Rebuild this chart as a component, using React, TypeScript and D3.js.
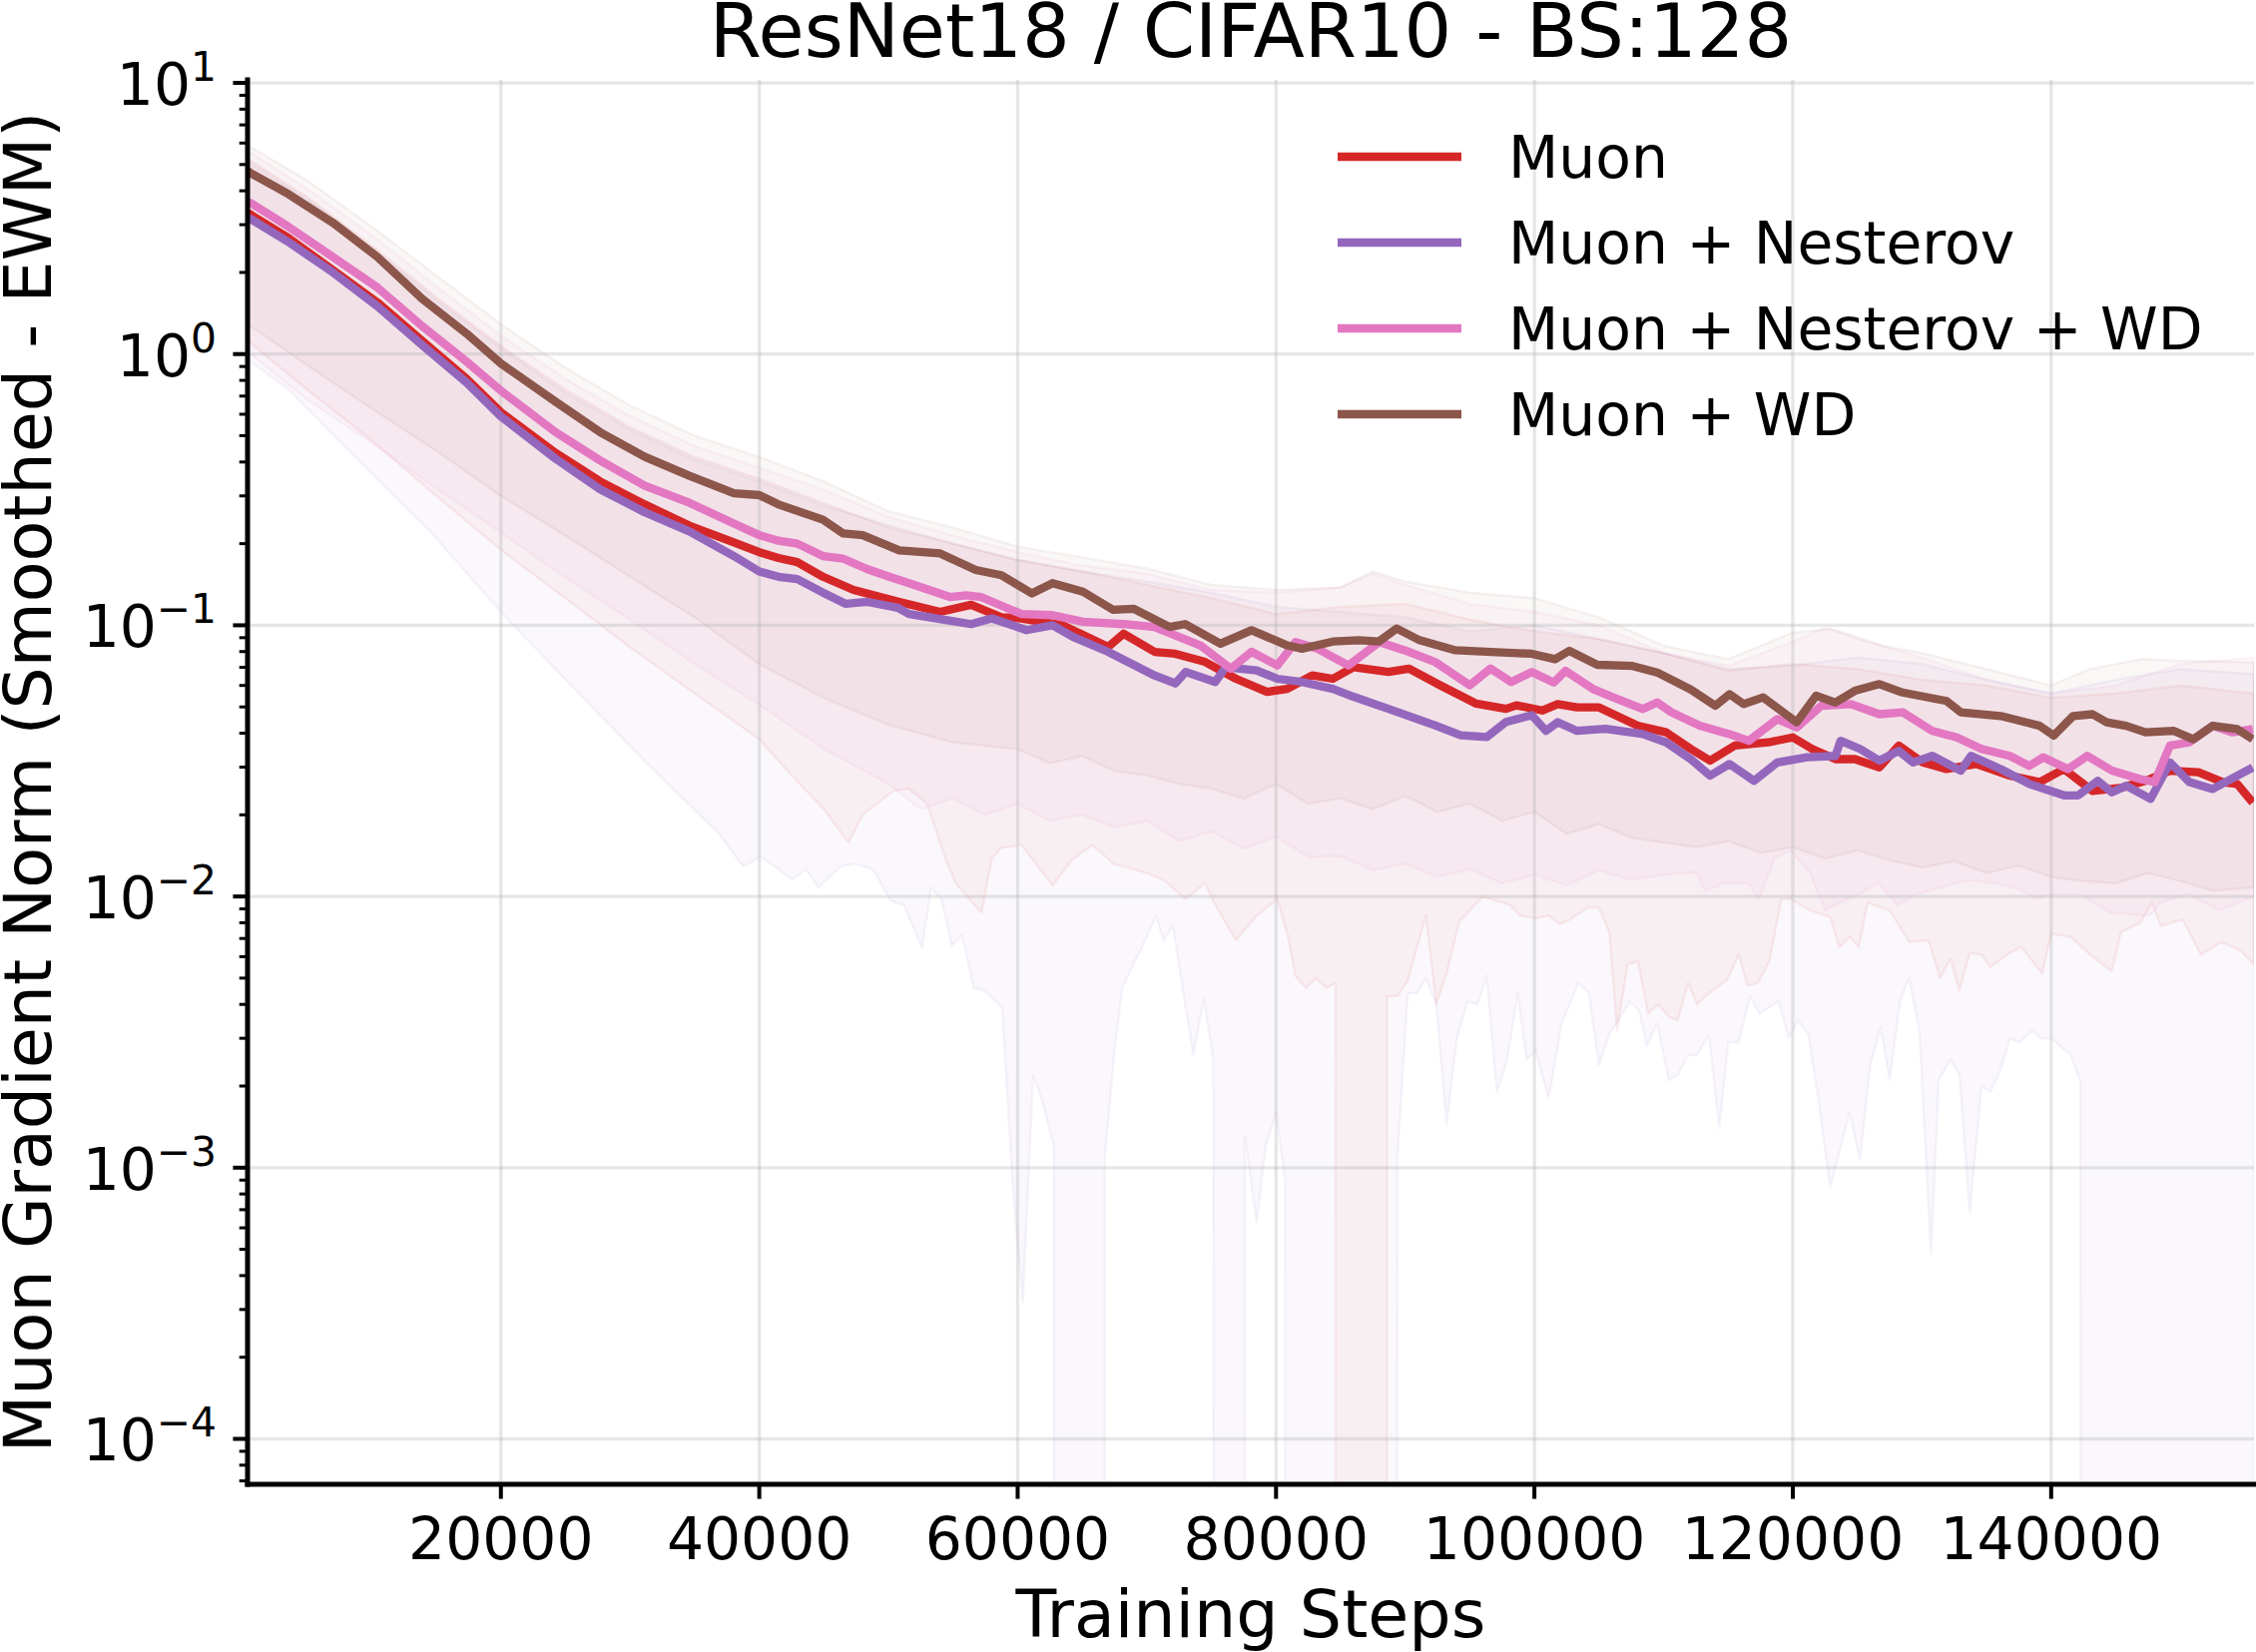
import React, { useEffect } from 'react';
import * as d3 from 'd3';

const W = 2260;
const H = 1655;

const TITLE = 'ResNet18 / CIFAR10 - BS:128';
const X_LABEL = 'Training Steps';
const Y_LABEL = 'Muon Gradient Norm (Smoothed - EWM)';
const X_TICKS = [20000, 40000, 60000, 80000, 100000, 120000, 140000];
const Y_DECADES = [-4, -3, -2, -1, 0, 1];
const X_DOMAIN: [number, number] = [391, 155700];
const Y_DOMAIN: [number, number] = [6.8e-5, 10.26];

const SERIES_NAMES = ['Muon', 'Muon + Nesterov', 'Muon + Nesterov + WD', 'Muon + WD'];
const COLORS = ['#d62728', '#9467bd', '#e377c2', '#8c564b'];

type P = [number, number];

// ---- smoothed mean lines [step, value] ----
const MUON: P[] = [[391,3.32],[620,3.27],[3551,2.68],[7000,2.04],[10448,1.55],[13896,1.12],[17344,0.811],[20000,0.61],[24241,0.432],[27690,0.339],[31138,0.279],[34586,0.233],[38034,0.202],[40000,0.186],[41483,0.177],[42940,0.171],[44931,0.151],[47300,0.135],[50840,0.122],[54000,0.112],[56400,0.119],[58740,0.107],[60300,0.106],[63500,0.1],[67000,0.0832],[68200,0.0931],[70600,0.0798],[72200,0.0785],[74500,0.0733],[76900,0.0635],[79300,0.0568],[80870,0.0583],[82800,0.0653],[84400,0.0635],[86000,0.0701],[88700,0.0673],[90300,0.0692],[92700,0.0601],[95500,0.0514],[97800,0.0492],[98600,0.0507],[100600,0.0485],[101800,0.0512],[103300,0.0498],[105000,0.0498],[108000,0.0426],[110200,0.0403],[112100,0.035],[113600,0.0317],[115500,0.036],[118100,0.037],[120000,0.0386],[121500,0.035],[123300,0.0321],[124800,0.0321],[126700,0.0299],[128200,0.036],[130000,0.0313],[131900,0.0295],[134200,0.0308],[136800,0.0279],[139100,0.0264],[141000,0.0295],[143200,0.0245],[145500,0.0252],[147300,0.0267],[149200,0.0291],[151400,0.0287],[153300,0.0264],[154400,0.026],[155600,0.0222]];

const NESTEROV: P[] = [[391,3.18],[620,3.15],[3551,2.59],[7000,2.0],[10448,1.5],[13896,1.08],[17344,0.785],[20000,0.589],[24241,0.411],[27690,0.317],[31138,0.261],[34586,0.222],[38034,0.18],[40000,0.158],[41483,0.151],[42940,0.148],[44931,0.132],[46700,0.12],[48379,0.122],[50724,0.116],[51600,0.11],[54800,0.104],[56400,0.101],[58000,0.106],[60700,0.096],[62700,0.1],[64300,0.0906],[67000,0.0798],[70600,0.0653],[72200,0.061],[73000,0.0673],[75300,0.0618],[76100,0.0701],[78500,0.0682],[80100,0.0635],[82000,0.0618],[84400,0.0583],[86000,0.0545],[88700,0.0492],[92300,0.0428],[94300,0.0393],[96300,0.0387],[97800,0.044],[99800,0.0466],[100900,0.0408],[101800,0.0439],[103300,0.0408],[105500,0.0415],[108400,0.0397],[110200,0.037],[112100,0.0321],[113600,0.0279],[115100,0.0308],[117000,0.0267],[118800,0.0312],[121100,0.0326],[123300,0.033],[123700,0.0375],[125200,0.035],[126700,0.0317],[128200,0.0344],[129300,0.0312],[130800,0.033],[133000,0.0291],[133800,0.033],[136100,0.0295],[138300,0.026],[141000,0.0236],[142100,0.0236],[143600,0.0267],[144700,0.0242],[145800,0.0256],[147700,0.0229],[149200,0.0312],[150700,0.0264],[152500,0.0249],[154400,0.0279],[155600,0.0299]];

const NESTEROV_WD: P[] = [[391,3.63],[620,3.61],[3551,2.95],[7000,2.28],[10448,1.76],[13896,1.27],[17344,0.938],[20000,0.733],[24241,0.515],[27690,0.405],[31138,0.327],[34586,0.283],[38034,0.237],[40000,0.215],[41483,0.205],[42940,0.2],[44931,0.18],[46500,0.176],[48379,0.161],[50050,0.151],[51600,0.143],[54800,0.127],[56000,0.129],[57200,0.127],[60300,0.11],[62700,0.109],[65050,0.103],[68200,0.101],[70580,0.0986],[74140,0.0843],[76500,0.0692],[78100,0.0798],[80100,0.0711],[81500,0.0867],[83200,0.082],[85600,0.0711],[88000,0.0867],[90300,0.0798],[92300,0.0733],[95000,0.0601],[96600,0.0692],[98200,0.0618],[99800,0.0673],[101500,0.0615],[102400,0.0679],[104600,0.058],[106100,0.0542],[108400,0.0491],[109500,0.0519],[110600,0.0478],[112800,0.0426],[115100,0.0397],[116600,0.0375],[118800,0.0451],[120300,0.042],[122200,0.0505],[124500,0.0512],[126700,0.047],[128500,0.0478],[130800,0.0408],[132700,0.0386],[134600,0.035],[136800,0.033],[138300,0.0303],[139400,0.0326],[141300,0.0295],[142800,0.033],[144700,0.0291],[146900,0.0271],[148000,0.0264],[149200,0.036],[150700,0.037],[152500,0.0426],[154000,0.0403],[155600,0.0414]];

const WD: P[] = [[391,4.75],[620,4.65],[3551,3.89],[7000,3.05],[10448,2.28],[13896,1.6],[17344,1.19],[20000,0.923],[24241,0.667],[27690,0.515],[31138,0.418],[34586,0.356],[38034,0.307],[40000,0.302],[41483,0.279],[44931,0.245],[46500,0.218],[48000,0.215],[50840,0.189],[54000,0.184],[56760,0.16],[58740,0.153],[61100,0.131],[62700,0.143],[65050,0.133],[67400,0.114],[69000,0.115],[71770,0.0986],[72950,0.101],[75700,0.0855],[78100,0.0959],[80870,0.0843],[82000,0.082],[84400,0.0871],[86400,0.0881],[87960,0.0871],[89340,0.0973],[91100,0.0881],[93880,0.0809],[96650,0.0798],[99800,0.0785],[101600,0.075],[102700,0.0805],[104860,0.0715],[107600,0.0708],[109500,0.067],[112100,0.058],[114000,0.0505],[115100,0.0557],[116200,0.0512],[117700,0.0542],[120300,0.0439],[121800,0.055],[123300,0.0519],[124800,0.0573],[126700,0.0607],[128500,0.0565],[131900,0.0526],[133000,0.0478],[136100,0.0463],[139100,0.0426],[140200,0.0392],[141700,0.0463],[143200,0.047],[144300,0.0439],[145800,0.0426],[147300,0.0403],[149500,0.0408],[151000,0.038],[152500,0.0426],[154400,0.0414],[155600,0.038]];

// ---- band upper edges ----
const MUON_HI: P[] = [[391,5.25],[5000,3.8],[10000,2.51],[15000,1.62],[20000,1.07],[25000,0.74],[30000,0.537],[35000,0.417],[40000,0.347],[45000,0.282],[50000,0.229],[55000,0.2],[60000,0.174],[65000,0.158],[70000,0.141],[75000,0.126],[80000,0.11],[85000,0.117],[90000,0.12],[95000,0.105],[100000,0.095],[105000,0.089],[110000,0.079],[115000,0.068],[120000,0.072],[125000,0.069],[130000,0.063],[135000,0.06],[140000,0.054],[145000,0.056],[150000,0.06],[155700,0.056]];
const NESTEROV_HI: P[] = [[391,5.13],[5000,3.72],[10000,2.45],[15000,1.58],[20000,1.05],[25000,0.72],[30000,0.525],[35000,0.407],[40000,0.339],[45000,0.275],[50000,0.234],[55000,0.2],[60000,0.174],[65000,0.158],[70000,0.145],[75000,0.132],[80000,0.117],[85000,0.112],[90000,0.107],[95000,0.095],[100000,0.1],[105000,0.089],[110000,0.079],[115000,0.069],[120000,0.071],[125000,0.076],[130000,0.072],[135000,0.063],[140000,0.056],[145000,0.063],[150000,0.069],[155700,0.066]];
const NESTEROV_WD_HI: P[] = [[391,5.62],[5000,4.07],[10000,2.75],[15000,1.78],[20000,1.17],[25000,0.81],[30000,0.59],[35000,0.457],[40000,0.38],[45000,0.316],[50000,0.251],[55000,0.214],[60000,0.186],[65000,0.166],[70000,0.155],[75000,0.135],[80000,0.132],[85000,0.138],[87500,0.155],[90000,0.141],[95000,0.12],[100000,0.112],[105000,0.1],[110000,0.079],[115000,0.071],[120000,0.087],[122500,0.098],[125000,0.089],[130000,0.076],[135000,0.063],[140000,0.056],[145000,0.06],[150000,0.072],[155700,0.076]];
const WD_HI: P[] = [[391,5.89],[5000,4.37],[10000,2.95],[15000,1.95],[20000,1.29],[25000,0.89],[30000,0.645],[35000,0.5],[40000,0.417],[45000,0.339],[50000,0.263],[55000,0.229],[60000,0.195],[65000,0.178],[70000,0.162],[75000,0.141],[80000,0.135],[85000,0.138],[87500,0.158],[90000,0.145],[95000,0.132],[100000,0.126],[105000,0.107],[110000,0.084],[115000,0.075],[120000,0.094],[123000,0.097],[127000,0.084],[130000,0.079],[135000,0.069],[140000,0.06],[143000,0.069],[147000,0.075],[150000,0.074],[155700,0.073]];

// ---- band lower edges (0 = non-positive, clipped to bottom) ----
const MUON_LO: P[] = [[391,1.12],[5000,0.74],[10000,0.48],[15000,0.3],[20000,0.19],[25000,0.126],[30000,0.083],[35000,0.056],[40000,0.038],[42500,0.028],[45000,0.021],[46900,0.0158],[48000,0.02],[50400,0.0245],[51600,0.025],[53000,0.0219],[54400,0.0138],[55200,0.0112],[57200,0.0087],[58000,0.0138],[58700,0.0151],[60300,0.0155],[61100,0.0138],[62700,0.011],[64300,0.0138],[65800,0.0155],[67400,0.0132],[69800,0.0123],[71300,0.0115],[73000,0.0098],[74500,0.0112],[75300,0.0093],[76900,0.0069],[78500,0.0085],[80100,0.0098],[80900,0.0072],[81500,0.0051],[82300,0.0046],[83100,0.005],[83900,0.0046],[84600,0.0048],[84700,0],[88500,0],[88600,0.0043],[89400,0.0043],[90200,0.0049],[91600,0.0085],[92400,0.004],[93200,0.0052],[94200,0.0081],[96000,0.01],[98100,0.0093],[98900,0.0085],[100100,0.0083],[101100,0.0085],[102000,0.0079],[102900,0.0083],[104100,0.0091],[105000,0.0091],[105800,0.0074],[106400,0.0032],[107200,0.0056],[108000,0.0058],[108800,0.0037],[109600,0.004],[110400,0.0036],[111100,0.0035],[111900,0.0048],[112600,0.004],[113500,0.0044],[114900,0.0049],[115800,0.0061],[116500,0.0047],[117300,0.0048],[118200,0.0058],[119100,0.0098],[119800,0.0098],[121300,0.0089],[122900,0.0084],[123600,0.0065],[124400,0.0071],[125100,0.0065],[125800,0.0095],[126800,0.0091],[127500,0.0089],[129000,0.0068],[130500,0.0069],[131400,0.005],[132200,0.0059],[132900,0.0045],[133700,0.0062],[134600,0.0061],[135300,0.0055],[136800,0.0062],[137700,0.0065],[139300,0.0052],[140000,0.0073],[141500,0.0071],[143200,0.006],[144700,0.0053],[145400,0.0074],[146900,0.008],[147800,0.0095],[148500,0.0078],[149300,0.008],[150200,0.0082],[151600,0.0061],[153200,0.0068],[154700,0.0063],[155700,0.0056]];

const NESTEROV_LO: P[] = [[391,0.955],[3500,0.746],[9000,0.405],[14600,0.22],[20000,0.112],[25800,0.0575],[31300,0.031],[36900,0.017],[38750,0.0129],[40100,0.014],[41500,0.0126],[42560,0.0115],[43600,0.0126],[44600,0.0108],[46300,0.0129],[47400,0.0132],[48800,0.0126],[50170,0.00964],[51200,0.0093],[52600,0.00646],[53300,0.0108],[54100,0.0098],[54900,0.0066],[55700,0.0072],[56600,0.0046],[57400,0.0045],[58800,0.0039],[59600,0.00089],[60400,0.00032],[61200,0.0022],[62000,0.0017],[62800,0.0012],[62850,0],[66700,0],[66750,0.0011],[67500,0.0027],[68100,0.0046],[69100,0.0058],[69700,0.0066],[70700,0.0085],[71300,0.0069],[72000,0.0078],[72900,0.0042],[73600,0.0026],[74400,0.0042],[75150,0.0025],[75200,0],[77550,0],[77600,0.0013],[78500,0.00063],[79200,0.0012],[80000,0.0016],[80700,0.0009],[80750,0],[89350,0],[89400,0.0011],[90200,0.0044],[90900,0.0044],[91600,0.005],[92400,0.004],[93200,0.00145],[94000,0.003],[94800,0.0041],[95600,0.004],[96300,0.0051],[97100,0.0019],[97900,0.0025],[98700,0.0044],[99400,0.0025],[100100,0.0027],[101100,0.0018],[102100,0.0034],[103400,0.0048],[104200,0.0044],[105000,0.0024],[105800,0.0031],[107400,0.0041],[108100,0.0038],[108700,0.0028],[109500,0.0034],[110400,0.0021],[111100,0.0022],[111900,0.0026],[112600,0.0026],[113500,0.0031],[114300,0.0014],[115000,0.0029],[115800,0.0029],[116700,0.0043],[117400,0.0037],[118900,0.0041],[119700,0.003],[120400,0.0035],[121200,0.0031],[121900,0.0019],[122900,0.00085],[124400,0.0016],[125200,0.00107],[126000,0.0024],[126800,0.0033],[127500,0.0021],[128300,0.0041],[129000,0.005],[129800,0.0032],[130700,0.00048],[131300,0.0021],[132200,0.0025],[132900,0.0022],[133700,0.00068],[134600,0.002],[135300,0.0019],[136100,0.0023],[136800,0.003],[137600,0.0029],[138500,0.0032],[139200,0.003],[140000,0.003],[141500,0.0026],[142250,0.0021],[142300,0],[155700,0]];

const NESTEROV_WD_LO: P[] = [[391,1.02],[5000,0.68],[10000,0.47],[15000,0.32],[20000,0.22],[25000,0.15],[30000,0.105],[35000,0.072],[40000,0.051],[45000,0.035],[50000,0.026],[52500,0.021],[55000,0.023],[57500,0.02],[60000,0.022],[62500,0.019],[65000,0.02],[67500,0.018],[70000,0.019],[72500,0.016],[75000,0.0174],[77500,0.015],[80000,0.0166],[82500,0.014],[85000,0.0141],[87500,0.0125],[90000,0.0132],[92500,0.0118],[95000,0.0126],[97500,0.0112],[100000,0.012],[102500,0.011],[105000,0.0125],[107500,0.0115],[110000,0.012],[112500,0.0123],[113200,0.0105],[114700,0.0112],[116500,0.0112],[117400,0.0098],[118600,0.0139],[119800,0.0148],[121300,0.0123],[122500,0.0089],[123700,0.0095],[125100,0.0102],[126600,0.0112],[128100,0.0093],[129600,0.0102],[131100,0.0107],[133500,0.0115],[135600,0.0112],[137400,0.0107],[138900,0.0098],[139800,0.0102],[142200,0.0102],[144600,0.0087],[147600,0.0085],[148500,0.0095],[150600,0.0102],[153000,0.0089],[155700,0.01]];

const WD_LO: P[] = [[391,1.29],[5000,0.91],[10000,0.63],[15000,0.44],[20000,0.3],[25000,0.214],[30000,0.151],[35000,0.107],[40000,0.072],[45000,0.054],[50000,0.043],[55000,0.037],[60000,0.035],[62500,0.031],[65000,0.033],[67500,0.029],[70000,0.028],[72500,0.026],[75000,0.025],[77500,0.023],[80000,0.026],[82500,0.022],[85000,0.023],[87500,0.021],[90000,0.0235],[92500,0.0205],[95000,0.022],[97500,0.019],[100000,0.0205],[102500,0.017],[105000,0.0185],[107500,0.0165],[110000,0.0158],[112500,0.0152],[115000,0.016],[117500,0.0145],[120000,0.0152],[122500,0.0138],[125000,0.0148],[127500,0.0136],[130000,0.0128],[132500,0.0135],[135000,0.0122],[137500,0.013],[140000,0.0118],[142500,0.0114],[145000,0.0112],[147500,0.0122],[150000,0.0114],[152500,0.0105],[155700,0.0108]];

const MEANS = [MUON, NESTEROV, NESTEROV_WD, WD];
const HIS = [MUON_HI, NESTEROV_HI, NESTEROV_WD_HI, WD_HI];
const LOS = [MUON_LO, NESTEROV_LO, NESTEROV_WD_LO, WD_LO];

const FONT = 'DejaVu Sans, Liberation Sans, sans-serif';

export default function App() {
  useEffect(() => {
    document.body.style.margin = '0';
  }, []);

  const left = 248, right = 2258, top = 80, bottom = 1487;
  const x = d3.scaleLinear().domain(X_DOMAIN).range([left, right]);
  const y = d3.scaleLog().domain(Y_DOMAIN).range([bottom, top]);
  const yv = (v: number) => (v > 0 ? y(v) : bottom + 3000);
  const line = d3.line<P>().x((d) => x(d[0])).y((d) => yv(d[1]));

  const minor: number[] = [];
  for (let k = -5; k <= 1; k++) {
    for (let m = 2; m <= 9; m++) {
      const v = m * Math.pow(10, k);
      if (v >= Y_DOMAIN[0] && v <= Y_DOMAIN[1]) minor.push(v);
    }
  }

  const tickFs = 58.3;
  const supFs = tickFs * 0.7;

  return (
    <svg width={W} height={H} viewBox={`0 0 ${W} ${H}`}
      style={{ display: 'block', position: 'absolute', left: 0, top: 0, background: '#fff' }} fontFamily={FONT}>
      <defs>
        <clipPath id="plot">
          <rect x={left} y={top} width={right - left} height={bottom - top} />
        </clipPath>
      </defs>
      <rect x={0} y={0} width={W} height={H} fill="#fff" />
      <g clipPath="url(#plot)">
        {LOS.map((lo, i) => {
          const pts: P[] = [...HIS[i], ...lo.slice().reverse()];
          return (
            <path key={'band' + i} d={(line(pts) || '') + 'Z'} fill={COLORS[i]} fillOpacity={0.045}
              stroke={COLORS[i]} strokeOpacity={0.07} strokeWidth={2.5} strokeLinejoin="round" />
          );
        })}
      </g>
      <g>
        {X_TICKS.map((t) => (
          <line key={'gx' + t} x1={x(t)} x2={x(t)} y1={top} y2={bottom} stroke="#b0b0b0" strokeOpacity={0.32} strokeWidth={3.3} />
        ))}
        {Y_DECADES.map((k) => (
          <line key={'gy' + k} x1={left} x2={right} y1={y(Math.pow(10, k))} y2={y(Math.pow(10, k))} stroke="#b0b0b0" strokeOpacity={0.32} strokeWidth={3.3} />
        ))}
      </g>
      <g clipPath="url(#plot)">
        {MEANS.map((s, i) => (
          <path key={'line' + i} d={line(s) || ''} fill="none" stroke={COLORS[i]} strokeWidth={8.3}
            strokeLinejoin="round" strokeLinecap="butt" />
        ))}
      </g>
      {/* ticks */}
      <g stroke="#000">
        {X_TICKS.map((t) => (
          <line key={'xt' + t} x1={x(t)} x2={x(t)} y1={bottom} y2={bottom + 14.6} strokeWidth={4} />
        ))}
        {Y_DECADES.map((k) => (
          <line key={'yt' + k} x1={left - 14.6} x2={left} y1={y(Math.pow(10, k))} y2={y(Math.pow(10, k))} strokeWidth={4} />
        ))}
        {minor.map((v, i) => (
          <line key={'ym' + i} x1={left - 8.3} x2={left} y1={y(v)} y2={y(v)} strokeWidth={3} />
        ))}
      </g>
      {/* spines */}
      <line x1={left} x2={left} y1={top} y2={bottom} stroke="#000" strokeWidth={5} strokeLinecap="square" />
      <line x1={left} x2={right} y1={bottom} y2={bottom} stroke="#000" strokeWidth={5} strokeLinecap="square" />
      {/* tick labels */}
      <g fontSize={tickFs} fill="#000">
        {X_TICKS.map((t) => (
          <text key={'xl' + t} x={x(t)} y={1562} textAnchor="middle">{String(t)}</text>
        ))}
        {Y_DECADES.map((k) => (
          <text key={'yl' + k} x={217} y={y(Math.pow(10, k)) + 22} textAnchor="end">
            10<tspan fontSize={supFs} dy={-24}>{k < 0 ? '\u2212' + Math.abs(k) : String(k)}</tspan>
          </text>
        ))}
      </g>
      {/* title & labels */}
      <text x={(left + right) / 2} y={57} textAnchor="middle" fontSize={75}>{TITLE}</text>
      <text x={(left + right) / 2} y={1640} textAnchor="middle" fontSize={66.7}>{X_LABEL}</text>
      <text transform={`translate(51, ${(top + bottom) / 2}) rotate(-90)`} textAnchor="middle" fontSize={66.7}>{Y_LABEL}</text>
      {/* legend */}
      <g>
        {SERIES_NAMES.map((n, i) => {
          const ly = 157 + i * 86;
          return (
            <g key={'lg' + i}>
              <line x1={1340} x2={1464} y1={ly} y2={ly} stroke={COLORS[i]} strokeWidth={8.3} />
              <text x={1511} y={ly + 21} fontSize={58.3} fill="#000">{n}</text>
            </g>
          );
        })}
      </g>
    </svg>
  );
}
